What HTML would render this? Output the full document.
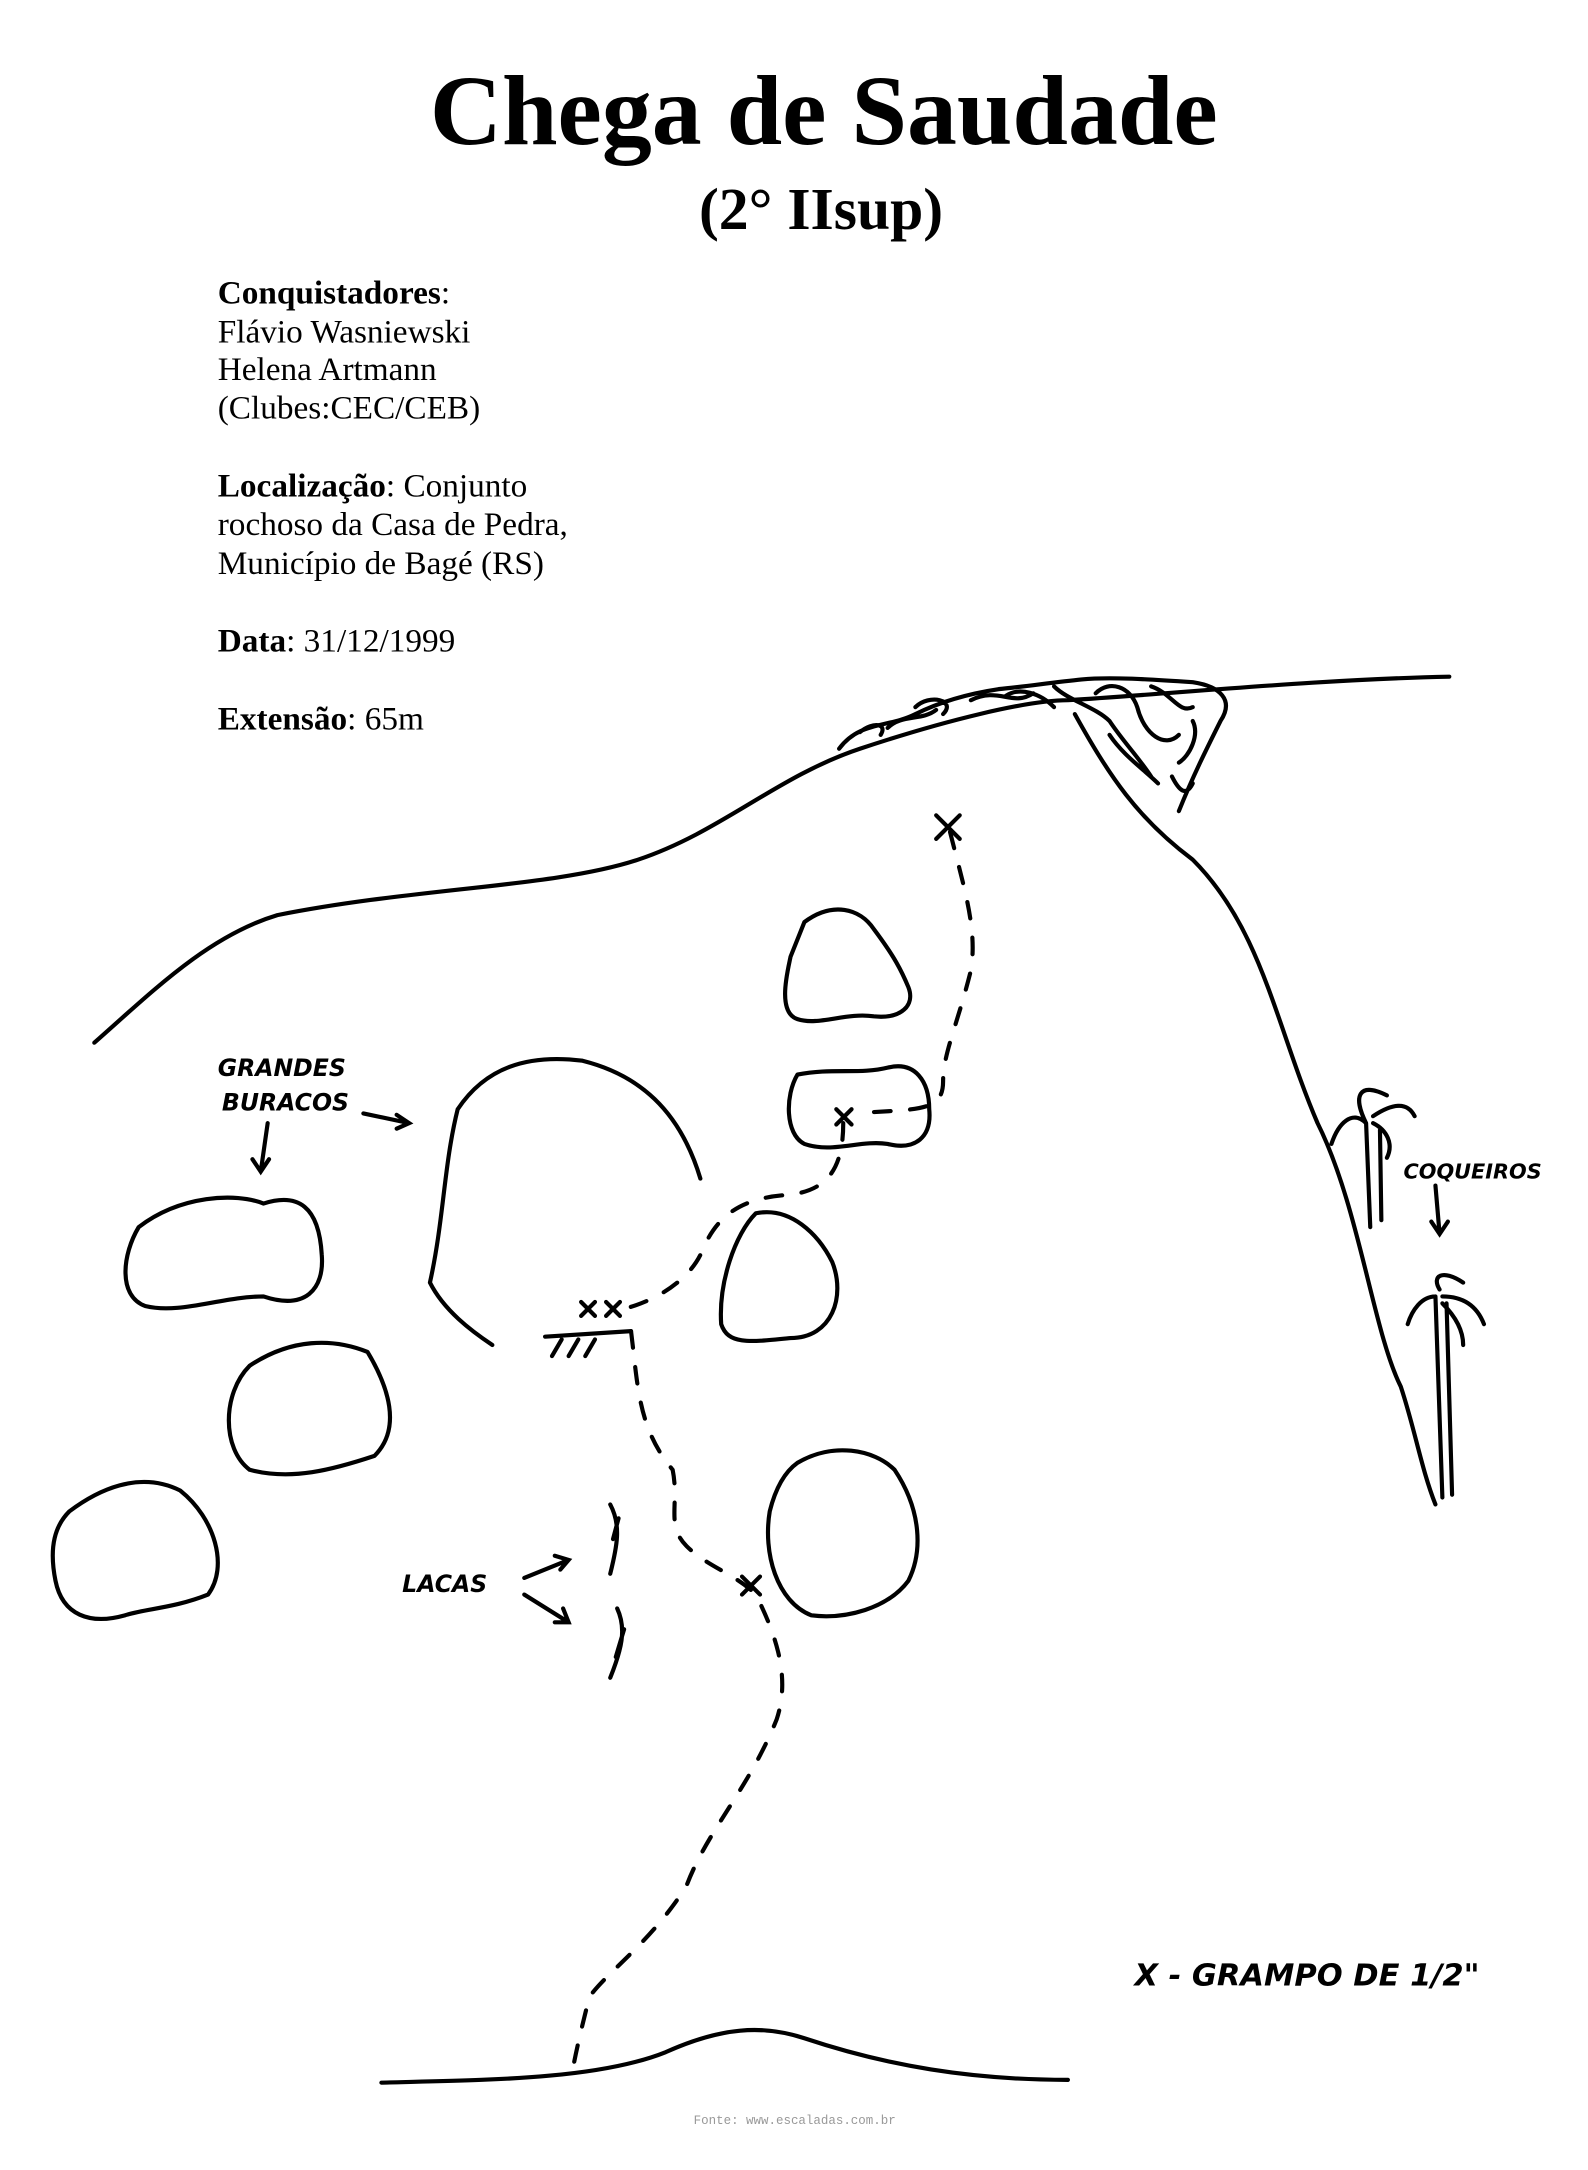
<!DOCTYPE html>
<html><head><style>
html,body{margin:0;padding:0;background:#fff;}
svg{display:block;}
</style></head><body>
<svg width="1588" height="2170" viewBox="0 0 1145 1565" preserveAspectRatio="none" xmlns="http://www.w3.org/2000/svg">
<g font-family="Liberation Serif, serif" fill="#000">
<text x="594" y="104" font-size="72" font-weight="bold" text-anchor="middle">Chega de Saudade</text>
<text x="592" y="165" font-size="43" font-weight="bold" text-anchor="middle">(2° IIsup)</text>
<g font-size="24">
<text x="157" y="219"><tspan font-weight="bold">Conquistadores</tspan>:</text>
<text x="157" y="247">Flávio Wasniewski</text>
<text x="157" y="274">Helena Artmann</text>
<text x="157" y="302">(Clubes:CEC/CEB)</text>
<text x="157" y="358"><tspan font-weight="bold">Localização</tspan>: Conjunto</text>
<text x="157" y="386">rochoso da Casa de Pedra,</text>
<text x="157" y="414">Município de Bagé (RS)</text>
<text x="157" y="470"><tspan font-weight="bold">Data</tspan>: 31/12/1999</text>
<text x="157" y="526"><tspan font-weight="bold">Extensão</tspan>: 65m</text>
</g>
</g>
<g fill="none" stroke="#000" stroke-width="3" stroke-linecap="round" stroke-linejoin="round">
<path d="M68,752 C110,715 150,675 200,660 C300,640 400,640 460,620 C520,600 560,560 620,540 C680,520 740,505 770,505 C850,500 950,490 1045,488"/>
<path d="M775,515 C800,560 820,590 860,620 C910,670 920,740 950,810 C980,870 990,960 1010,1000 C1020,1030 1025,1060 1035,1085"/>
<path d="M605,540 C620,520 640,525 660,515 C680,505 700,500 720,497 C740,495 760,492 780,490 C800,488 830,490 860,492 C880,495 890,505 880,520 C870,540 860,560 850,585 M620,528 C630,520 640,522 635,530 M660,510 C670,500 690,505 680,515 M700,505 C720,495 730,510 745,500 M760,495 C770,505 790,510 800,520 C810,535 820,545 830,560 M790,500 C800,490 815,495 820,510 C825,530 840,540 850,530 M830,495 C845,500 850,515 860,510 M800,530 C810,545 825,555 835,565 M845,560 C850,570 855,575 860,565 M640,525 C650,515 665,520 675,512 M725,502 C735,495 750,500 760,510 M860,520 C865,530 858,545 850,550"/>
<path d="M580,665 C600,650 620,655 630,670 C645,690 650,700 655,712 C660,725 650,735 630,733 C610,730 590,740 575,735 C560,730 568,700 570,690 Z"/>
<path d="M575,775 C600,770 620,775 640,770 C660,765 670,780 670,800 C672,820 660,830 640,825 C620,822 600,832 580,825 C566,818 566,790 575,775 Z"/>
<path d="M310,925 C320,880 320,840 330,800 C350,770 380,760 420,765 C460,775 490,800 505,850 M310,925 C320,945 340,960 355,970"/>
<path d="M545,875 C570,870 590,890 600,910 C610,935 600,965 570,965 C540,968 525,970 520,955 C518,925 530,890 545,875 Z"/>
<path d="M100,885 C130,862 170,860 190,868 C215,860 230,870 232,905 C234,930 220,945 190,935 C160,935 130,948 105,942 C85,935 88,905 100,885 Z"/>
<path d="M180,985 C210,965 240,965 265,975 C280,1000 290,1030 270,1050 C240,1060 210,1068 180,1060 C160,1045 160,1005 180,985 Z"/>
<path d="M50,1090 C70,1075 100,1060 130,1075 C155,1095 165,1130 150,1150 C125,1160 105,1160 90,1165 C65,1172 45,1165 40,1140 C35,1115 40,1100 50,1090 Z"/>
<path d="M575,1055 C600,1040 630,1045 645,1060 C665,1090 665,1120 655,1140 C640,1160 610,1168 585,1165 C560,1155 550,1120 555,1090 C560,1070 568,1060 575,1055 Z"/>
<path d="M275,1502 C350,1500 430,1500 480,1480 C520,1462 550,1460 580,1470 C640,1490 700,1500 770,1500"/>
</g>
<g fill="none" stroke="#000" stroke-width="3" stroke-dasharray="12,14" stroke-linecap="round">
<path d="M685,600 C695,640 705,670 700,700 C690,740 680,760 680,780 C680,800 665,800 630,802"/>
<path d="M608,810 C608,845 595,860 565,862 C530,865 515,880 505,905 C495,925 470,940 445,945"/>
<path d="M455,960 C460,1000 460,1030 485,1060 C490,1085 480,1100 495,1115 C510,1130 530,1135 545,1150 C560,1180 570,1210 560,1240 C540,1290 510,1320 495,1360 C470,1400 440,1420 425,1440 C420,1460 415,1480 412,1498"/>
</g>
<g stroke="#000" stroke-width="3" stroke-linecap="round" fill="none">
<path d="M675,588 L692,605 M692,588 L675,605"/>
<path d="M603,800 L614,811 M614,800 L603,811"/>
<path d="M419,939 L429,949 M429,939 L419,949 M437,939 L447,949 M447,939 L437,949"/>
<path d="M535,1137 L548,1150 M548,1137 L535,1150"/>
<path d="M393,964 L455,960 M398,978 L405,966 M410,978 L417,966 M422,978 L429,966"/>
<path d="M440,1085 C448,1100 445,1115 440,1135 M446,1095 L442,1110"/>
<path d="M445,1160 C452,1175 448,1190 440,1210 M450,1175 L444,1195"/>
<path d="M378,1138 L410,1125 M400,1122 L410,1125 L404,1132"/>
<path d="M378,1150 L410,1170 M400,1170 L410,1170 L406,1160"/>
<path d="M262,803 L295,810 M286,804 L295,810 L286,814"/>
<path d="M193,810 L188,845 M182,836 L188,845 L194,836"/>
<path d="M1035,855 L1038,890 M1032,881 L1038,890 L1044,881"/>
<path d="M985,810 L988,885 M995,815 L996,880 M985,810 C975,800 965,810 960,825 M985,810 C975,790 980,780 1000,790 M990,805 C1005,795 1015,795 1020,805 M990,810 C1000,815 1005,825 1000,835"/>
<path d="M1035,935 L1040,1080 M1043,940 L1047,1078 M1035,935 C1025,935 1018,945 1015,955 M1038,930 C1032,920 1040,915 1055,925 M1040,935 C1055,935 1065,942 1070,955 M1040,940 C1050,950 1055,960 1055,970"/>
</g>
<g font-family="DejaVu Sans, sans-serif" font-size="17" font-style="italic" font-weight="bold" fill="#000">
<text x="157" y="776">GRANDES</text>
<text x="160" y="801">BURACOS</text>
<text x="290" y="1148">LACAS</text>
<text x="1012" y="850" font-size="15">COQUEIROS</text>
<text x="818" y="1432" font-size="22">X - GRAMPO DE 1/2"</text>
</g>
<text x="573" y="1532" font-family="Liberation Mono, monospace" font-size="9" fill="#999" text-anchor="middle">Fonte: www.escaladas.com.br</text>
</svg>
</body></html>
